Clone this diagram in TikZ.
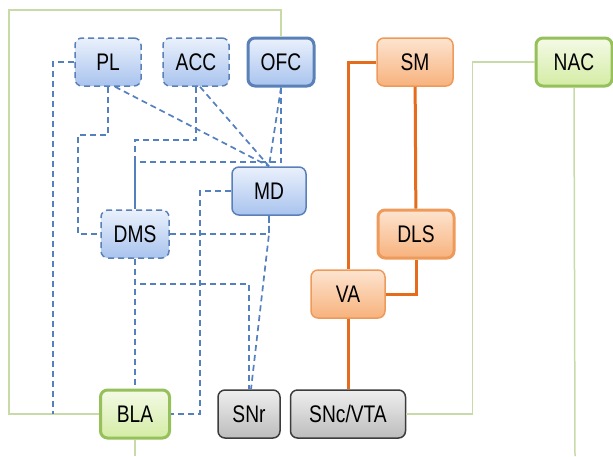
\documentclass[tikz,border=0pt]{standalone}
\usepackage{fontspec}
\setmainfont[FakeStretch=0.8]{Liberation Sans}
\usepackage{tikz}
\usetikzlibrary{positioning}

\definecolor{ctxTop}{HTML}{EAF1FC}
\definecolor{ctxBot}{HTML}{A9C3EE}
\definecolor{ctxLine}{HTML}{5A80B8}
\definecolor{ctxPath}{HTML}{5580BE}
\definecolor{motTop}{HTML}{FDE4D0}
\definecolor{motBot}{HTML}{F7B27C}
\definecolor{motLine}{HTML}{EE9A5A}
\definecolor{motPath}{HTML}{E46C1C}
\definecolor{limTop}{HTML}{F4FAE6}
\definecolor{limBot}{HTML}{D4ECA4}
\definecolor{limLine}{HTML}{95C05A}
\definecolor{limPath}{HTML}{C8DAA8}
\definecolor{midTop}{HTML}{EEEEEE}
\definecolor{midBot}{HTML}{BDBDBD}
\definecolor{midLine}{HTML}{3C3C3C}

\begin{document}
\begin{tikzpicture}[
  x=1pt, y=-1pt,
  area/.style={
    rectangle, rounded corners=7pt,
    minimum height=48pt, minimum width=66pt,
    inner sep=0pt, align=center,
    font=\fontsize{24}{26}\selectfont
  },
  cortex/.style={area, top color=ctxTop, bottom color=ctxBot, draw=ctxLine, line width=1.5pt},
  assocbox/.style={cortex, dash pattern=on 6pt off 4pt},
  motorbox/.style={area, top color=motTop, bottom color=motBot, draw=motLine, line width=1.5pt},
  limbicbox/.style={area, top color=limTop, bottom color=limBot, draw=limLine, line width=3pt},
  midbox/.style={area, top color=midTop, bottom color=midBot, draw=midLine, line width=1.5pt},
  assoc/.style={draw=ctxPath, line width=1.7pt, dash pattern=on 6pt off 4pt},
  motor/.style={draw=motPath, line width=3pt},
  limbic/.style={draw=limPath, line width=1.5pt}
]
\useasboundingbox (0,0) rectangle (613,456);

% cortex and thalamus
\node[assocbox] (pl) at (108,62) {PL};
\node[assocbox] (acc) at (196,62) {ACC};
\node[cortex, line width=3pt] (ofc) at (281,62) {OFC};
\node[cortex, minimum width=74pt] (md) at (269,191) {MD};
\node[assocbox, minimum width=68pt] (dms) at (135,234) {DMS};

% motor loop
\node[motorbox, minimum width=76pt] (sm) at (415,62) {SM};
\node[motorbox, minimum width=76pt, line width=3pt] (dls) at (416,234) {DLS};
\node[motorbox, minimum width=74pt] (va) at (348,294) {VA};

% limbic
\node[limbicbox, minimum width=76pt] (nac) at (574,62) {NAC};
\node[limbicbox, minimum width=69pt] (bla) at (135,414) {BLA};

% midbrain
\node[midbox, minimum width=62pt] (snr) at (249,414) {SNr};
\node[midbox, minimum width=115pt] (snc) at (348,414) {SNc/VTA};

\coordinate (corner) at (9,10);
\coordinate (plend) at (53,414);
\coordinate (plknee) at (78,135);
\coordinate (accknee) at (135,140);
\coordinate (ofcknee) at (135,162);
\coordinate (mdknee) at (269,234);
\coordinate (blaout) at (135,456);
\coordinate (nacout) at (575,456);

% limbic paths
\draw[limbic] (ofc.north) |- (corner) |- (bla.west);
\draw[limbic] (bla.south) -- (blaout);
\draw[limbic] (snc.east) -- ++(66,0) |- (nac.west);
\draw[limbic] (nac.south) -- (nacout);

% motor paths
\draw[motor] (sm.west) -| (va.north);
\draw[motor] (sm) -- (dls);
\draw[motor] (dls.south) |- (va.east);
\draw[motor] (va) -- (snc);

% associative paths
\draw[assoc] (pl.west) -| (plend);
\draw[assoc] (pl.south) |- (plknee) |- (dms.west);
\draw[assoc] ([xshift=7pt]pl.south) -- (md.north);
\draw[assoc] (acc.south) |- (accknee) -- (dms.north);
\draw[assoc] ([xshift=4pt]acc.south) -- (md.north);
\draw[assoc] (ofc.south) |- (ofcknee) -- (dms.north);
\draw[assoc] (ofc.south) -- (md.north);
\draw[assoc] (md.west) -- ++(-31,0) |- (bla.east);
\draw[assoc] (dms.east) -| (md.south);
\draw[assoc] (md.south) -- (mdknee) -- ([xshift=2pt]snr.north);
\draw[assoc] (dms.south) -- ++(0,25) -| (snr.north);
\draw[assoc] (dms) -- (bla);
\end{tikzpicture}
\end{document}
